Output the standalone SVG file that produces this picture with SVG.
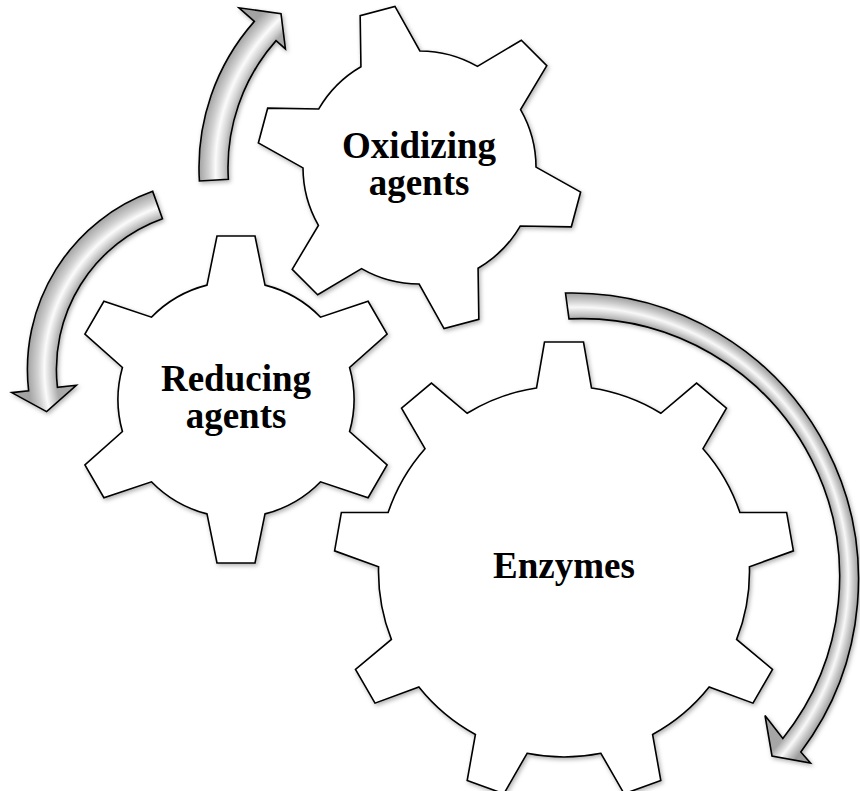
<svg xmlns="http://www.w3.org/2000/svg" width="860" height="791" viewBox="0 0 860 791">
  <style>
    .gear { fill: #ffffff; stroke: #000000; stroke-width: 1.6; stroke-linejoin: miter; filter: url(#shadow); }
    .label { font-family: "Liberation Serif", "Times New Roman", serif; font-weight: bold; font-size: 37px; fill: #000000; text-anchor: middle; }
    .arrow { stroke: #000000; stroke-width: 1.6; stroke-linejoin: miter; filter: url(#shadow); }
  </style>
  <defs>
    <filter id="shadow" x="-10%" y="-10%" width="120%" height="120%">
      <feDropShadow dx="1.5" dy="2" stdDeviation="2" flood-color="#000000" flood-opacity="0.3"/>
    </filter>
    <radialGradient id="g1" gradientUnits="userSpaceOnUse" cx="419.5" cy="167.5" r="220.5">
      <stop offset="0.868" stop-color="#a9a9a9"/>
      <stop offset="0.89" stop-color="#cfcfcf"/>
      <stop offset="0.925" stop-color="#fbfbfb"/>
      <stop offset="0.955" stop-color="#d2d2d2"/>
      <stop offset="1" stop-color="#a2a2a2"/>
    </radialGradient>
    <radialGradient id="g2" gradientUnits="userSpaceOnUse" cx="216.4" cy="369.3" r="189">
      <stop offset="0.847" stop-color="#a9a9a9"/>
      <stop offset="0.875" stop-color="#cfcfcf"/>
      <stop offset="0.91" stop-color="#fbfbfb"/>
      <stop offset="0.945" stop-color="#d2d2d2"/>
      <stop offset="1" stop-color="#a2a2a2"/>
    </radialGradient>
    <radialGradient id="g3" gradientUnits="userSpaceOnUse" cx="572" cy="579.5" r="286.5" fx="671.2" fy="552.1">
      <stop offset="0.9012" stop-color="#a6a6a6"/>
      <stop offset="0.92" stop-color="#cbcbcb"/>
      <stop offset="0.945" stop-color="#f8f8f8"/>
      <stop offset="0.97" stop-color="#cdcdcd"/>
      <stop offset="1" stop-color="#9e9e9e"/>
    </radialGradient>
  </defs>

  <g id="connectors">
    <path id="arrow-oxidizing" class="arrow" fill="url(#g1)" d="M199.41,180.96 A220.5,220.5 0 0 1 254.35,21.39 L239,7.81 L280.99,13.67 L285.44,48.89 L276.07,40.61 A191.5,191.5 0 0 0 228.36,179.19 Z"/>
    <path id="arrow-reducing" class="arrow" fill="url(#g2)" d="M152.69,191.36 A189,189 0 0 0 28.62,390.69 L11.72,392.62 L46.6,411.64 L76.31,385.26 L57.43,387.41 A160,160 0 0 1 162.46,218.66 Z"/>
    <path id="arrow-enzymes" class="arrow" fill="url(#g3)" d="M565.5,293.07 A286.5,286.5 0 0 1 800.81,751.92 L810.5,763 L772,756 L765,715.5 L782.84,738.38 A258.2,258.2 0 0 0 569,318.9 Z"/>
  </g>

  <g id="node-oxidizing">
    <path class="gear" d="M536,167.14 L580.64,192.04 L571.32,226.82 L520.22,226.06 A116.5,116.5 0 0 1 478.06,268.22 L478.82,319.32 L444.04,328.64 L419.14,284 A116.5,116.5 0 0 1 361.56,268.58 L317.68,294.78 L292.22,269.32 L318.42,225.44 A116.5,116.5 0 0 1 303,167.86 L258.36,142.96 L267.68,108.18 L318.78,108.94 A116.5,116.5 0 0 1 360.94,66.78 L360.18,15.68 L394.96,6.36 L419.86,51 A116.5,116.5 0 0 1 477.44,66.42 L521.32,40.22 L546.78,65.68 L520.58,109.56 A116.5,116.5 0 0 1 536,167.14 Z"/>
    <text class="label" x="419" y="158">Oxidizing</text>
    <text class="label" x="419" y="195">agents</text>
  </g>

  <g id="node-reducing">
    <path class="gear" d="M207,285.1 L217,236 L255,236 L265,285.1 A118,118 0 0 1 320.57,317.19 L368.09,301.3 L387.09,334.2 L349.57,367.41 A118,118 0 0 1 349.57,431.59 L387.09,464.8 L368.09,497.7 L320.57,481.81 A118,118 0 0 1 265,513.9 L255,563 L217,563 L207,513.9 A118,118 0 0 1 151.43,481.81 L103.91,497.7 L84.91,464.8 L122.43,431.59 A118,118 0 0 1 122.43,367.41 L84.91,334.2 L103.91,301.3 L151.43,317.19 A118,118 0 0 1 207,285.1 Z"/>
    <text class="label" x="236" y="391">Reducing</text>
    <text class="label" x="236" y="428">agents</text>
  </g>

  <g id="node-enzymes">
    <path class="gear" d="M536.5,388.05 L544.5,342 L583.5,342 L591.5,388.05 A185.5,185.5 0 0 1 660.85,413.3 L696.58,383.17 L726.46,408.23 L702.99,448.66 A185.5,185.5 0 0 1 739.89,512.57 L786.62,512.46 L793.4,550.86 L749.43,566.73 A185.5,185.5 0 0 1 736.62,639.41 L772.5,669.36 L753,703.14 L709.12,687.05 A185.5,185.5 0 0 1 652.58,734.48 L660.81,780.49 L624.17,793.83 L600.9,753.3 A185.5,185.5 0 0 1 527.1,753.3 L503.83,793.83 L467.19,780.49 L475.42,734.48 A185.5,185.5 0 0 1 418.88,687.05 L375,703.14 L355.5,669.36 L391.38,639.41 A185.5,185.5 0 0 1 378.57,566.73 L334.6,550.86 L341.38,512.46 L388.11,512.57 A185.5,185.5 0 0 1 425.01,448.66 L401.54,408.23 L431.42,383.17 L467.15,413.3 A185.5,185.5 0 0 1 536.5,388.05 Z"/>
    <text class="label" x="564" y="578">Enzymes</text>
  </g>
</svg>
